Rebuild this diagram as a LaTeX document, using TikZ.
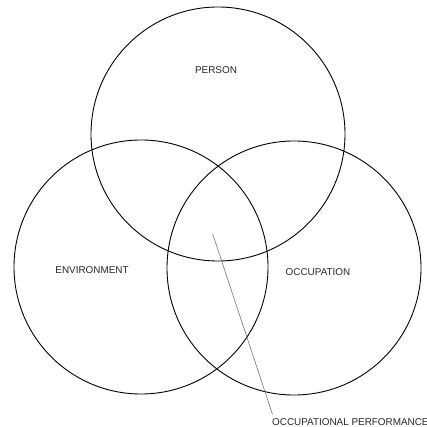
\documentclass[tikz,border=0pt]{standalone}
\usepackage{fontspec}
\setmainfont{Liberation Sans}
\usepackage{tikz}

\begin{document}
\begin{tikzpicture}[
      x=1pt, y=-1pt,
      ring/.style={draw, circle, line width=0.9pt, minimum size=254pt, inner sep=0pt},
      label/.style={font=\fontsize{9.9}{11.8}\selectfont, inner sep=0pt, text=black!85},
      pointer/.style={draw=black!55, line width=0.6pt}
    ]
    \useasboundingbox (0,0) rectangle (426,427);

    % The three circles
    \node [ring] (person) at (218,134) {};
    \node [ring] (environment) at (141,267) {};
    \node [ring] (occupation) at (294,268) {};

    % Circle labels
    \node [label] (personlbl) at (216,70) {PERSON};
    \node [label] (environmentlbl) at (92,270) {ENVIRONMENT};
    \node [label] (occupationlbl) at (318,272) {OCCUPATION};

    % Overlap label with pointer line
    \node [label, anchor=base west] (performance) at (272,425) {OCCUPATIONAL PERFORMANCE};
    \coordinate (centre) at (212.7,234);
    \draw [pointer] (centre) -- ([shift={(0.5pt,3.5pt)}]performance.north west);

\end{tikzpicture}
\end{document}
